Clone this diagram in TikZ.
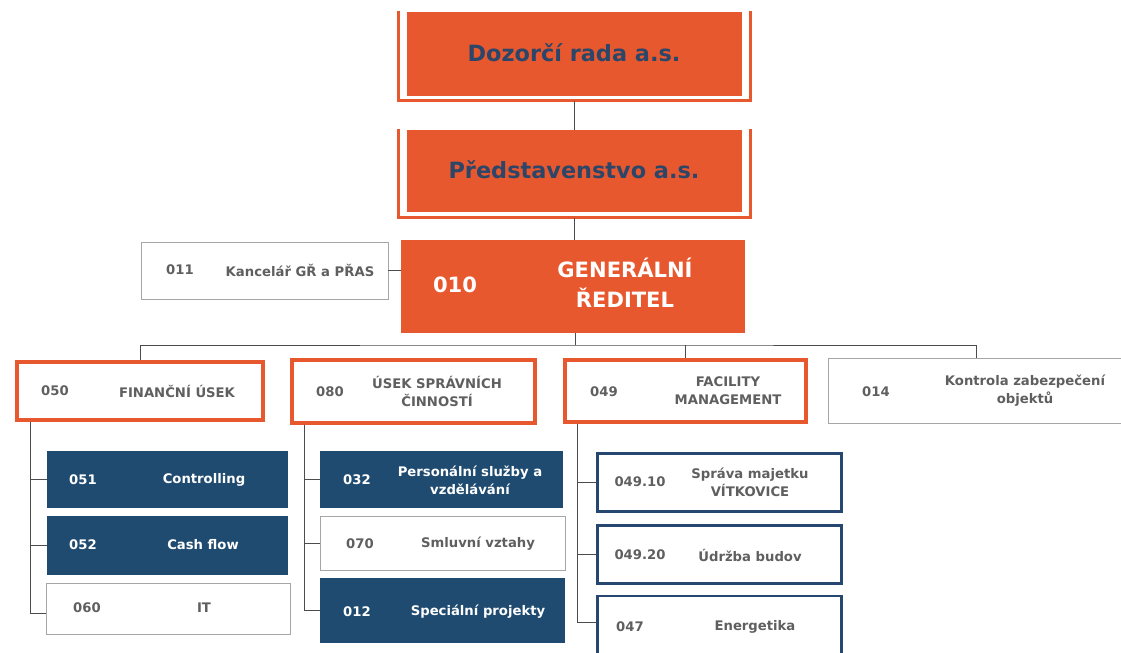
\documentclass[tikz,border=0pt]{standalone}
\usepackage{fontspec}
\setmainfont{DejaVu Sans}
\usetikzlibrary{calc}
\definecolor{orgred}{RGB}{232,88,46}
\definecolor{navyfill}{RGB}{31,75,112}
\definecolor{navyline}{RGB}{38,72,112}
\definecolor{deeptext}{RGB}{44,70,105}
\definecolor{greytext}{RGB}{95,95,95}
\tikzset{
  board/.style={fill=orgred, minimum width=251.25pt, inner sep=0pt},
  rim/.style={draw=orgred, line width=1.9pt},
  unitbox/.style={draw=orgred, line width=3pt, fill=white, inner sep=0pt},
  plainbox/.style={draw=black!35, line width=0.6pt, fill=white, inner sep=0pt},
  bluebox/.style={fill=navyfill, inner sep=0pt},
  framebox/.style={draw=navyline, line width=2.2pt, fill=white, inner sep=0pt},
  link/.style={draw=black!70, line width=0.7pt},
  lbl/.style={font=\fontsize{9.9}{13.5}\selectfont\bfseries, text=greytext, align=center, inner sep=0pt},
  wlbl/.style={lbl, text=white},
}

\begin{document}
\begin{tikzpicture}[x=0.75pt,y=-0.75pt]
  \fill[white] (0,0) rectangle (1121,653);
  \useasboundingbox (0,0) rectangle (1121,653);

  % Boards
  \node[board, minimum height=63pt] (dozor) at (574.5,54) {};
  \node[board, minimum height=61.5pt] (pred) at (574.5,171) {};
  \draw[rim] ($(dozor.north west)+(-8,-1)$) |- ($(dozor.south)+(0,4)$) -| ($(dozor.north east)+(8,-1)$);
  \draw[rim] ($(pred.north west)+(-8,-1)$) |- ($(pred.south)+(0,5)$) -| ($(pred.north east)+(8,-1)$);
  \node[font=\fontsize{16.8}{20}\selectfont\bfseries, text=deeptext] (dozortxt) at (574,53) {Dozorčí rada a.s.};
  \node[font=\fontsize{16.8}{20}\selectfont\bfseries, text=deeptext] (predtxt) at (574,170) {Představenstvo a.s.};

  % General director and office
  \node[fill=orgred, minimum width=258pt, minimum height=69.75pt, inner sep=0pt] (gr) at (573,286.5) {};
  \node[font=\fontsize{15.8}{22.5}\selectfont\bfseries, text=white] (grcode) at (455,285) {010};
  \node[font=\fontsize{15.8}{22.5}\selectfont\bfseries, text=white, align=center] (grname) at (625,283) {GENERÁLNÍ\\ŘEDITEL};
  \node[plainbox, minimum width=185.25pt, minimum height=42.75pt] (kanc) at (264.5,270.5) {};
  \node[lbl] (kanccode) at (180,270) {011};
  \node[lbl] (kancname) at (300,270) {Kancelář GŘ a PŘAS};

  \draw[link] ($(dozor.south)+(0,5)$) -- (pred.north);
  \draw[link] ($(pred.south)+(0,6)$) -- (pred.south |- gr.north);
  \draw[link] (kanc.east) -- (kanc.east -| gr.west);

  % Divisions
  \node[unitbox, minimum width=184.5pt, minimum height=43.5pt] (fin) at (140,391) {};
  \node[unitbox, minimum width=182pt, minimum height=47pt] (spr) at (413.5,391.5) {};
  \node[unitbox, minimum width=181pt, minimum height=46.5pt] (fac) at (685.5,391) {};
  \node[plainbox, minimum width=222.75pt, minimum height=48.75pt] (kon) at (976.5,390.5) {};
  \node[lbl] (fincode) at (55,391) {050};
  \node[lbl] (finname) at (177,391) {FINANČNÍ ÚSEK};
  \node[lbl] (sprcode) at (330,392) {080};
  \node[lbl] (sprname) at (437,391) {ÚSEK SPRÁVNÍCH\\ČINNOSTÍ};
  \node[lbl] (faccode) at (604,392) {049};
  \node[lbl] (facname) at (728,391) {FACILITY\\MANAGEMENT};
  \node[lbl] (koncode) at (876,392) {014};
  \node[lbl] (konname) at (1025,391) {Kontrola zabezpečení\\objektů};

  \coordinate (bus) at (575,345);
  \draw[link] (bus |- gr.south) -- (bus);
  \draw[link] (fin.north) |- (bus) -| (kon.north);
  \draw[link] ($(spr.north)+(17,0)$) -- ($(spr.north)+(17,0)$ |- bus);
  \draw[link] (fac.north) -- (fac.north |- bus);

  % Finance column
  \node[bluebox, minimum width=180.75pt, minimum height=42.75pt] (ctrl) at (167.5,479.5) {};
  \node[bluebox, minimum width=180.75pt, minimum height=44.25pt] (cash) at (167.5,545.5) {};
  \node[plainbox, minimum width=183pt, minimum height=38.25pt] (it) at (168,608.5) {};
  \node[wlbl] (ctrlcode) at (83,480) {051};
  \node[wlbl] (ctrlname) at (204,480) {Controlling};
  \node[wlbl] (cashcode) at (83,545) {052};
  \node[wlbl] (cashname) at (203,545) {Cash flow};
  \node[lbl] (itcode) at (87,608) {060};
  \node[lbl] (itname) at (204,608) {IT};
  \coordinate (finroot) at ($(fin.south west)+(15,0)$);
  \draw[link] (finroot) |- (ctrl.west);
  \draw[link] (finroot) |- (cash.west);
  \draw[link] (finroot) |- ($(it.west)+(0,5)$);

  % Administration column
  \node[bluebox, minimum width=182.25pt, minimum height=42.75pt] (pers) at (441.5,479.5) {};
  \node[plainbox, minimum width=183.75pt, minimum height=40.5pt] (smlu) at (442.5,543) {};
  \node[bluebox, minimum width=183.75pt, minimum height=48.75pt] (proj) at (442.5,610.5) {};
  \node[wlbl] (perscode) at (357,480) {032};
  \node[wlbl] (persname) at (470,480) {Personální služby a\\vzdělávání};
  \node[lbl] (smlucode) at (360,544) {070};
  \node[lbl] (smluname) at (478,544) {Smluvní vztahy};
  \node[wlbl] (projcode) at (357,612) {012};
  \node[wlbl] (projname) at (478,612) {Speciální projekty};
  \coordinate (sprroot) at ($(spr.south west)+(14,0)$);
  \draw[link] (sprroot) |- (pers.west);
  \draw[link] (sprroot) |- (smlu.west);
  \draw[link] (sprroot) |- (proj.west);

  % Facility column
  \node[framebox, minimum width=183pt, minimum height=43.5pt] (majet) at (719.5,482.5) {};
  \node[framebox, minimum width=183pt, minimum height=43.5pt] (udrz) at (719.5,554.5) {};
  \node[framebox, minimum width=183pt, minimum height=48pt] (ener) at (719.5,628) {};
  \node[lbl] (majetcode) at (640,482) {049.10};
  \node[lbl] (majetname) at (750,482) {Správa majetku\\VÍTKOVICE};
  \node[lbl] (udrzcode) at (640,555) {049.20};
  \node[lbl] (udrzname) at (750,555) {Údržba budov};
  \node[lbl] (enercode) at (630,627) {047};
  \node[lbl] (enername) at (755,627) {Energetika};
  \coordinate (facroot) at ($(fac.south west)+(15,0)$);
  \draw[link] (facroot) |- (majet.west);
  \draw[link] (facroot) |- (udrz.west);
  \draw[link] (facroot) |- ($(ener.west)+(0,-6)$);
\end{tikzpicture}
\end{document}
